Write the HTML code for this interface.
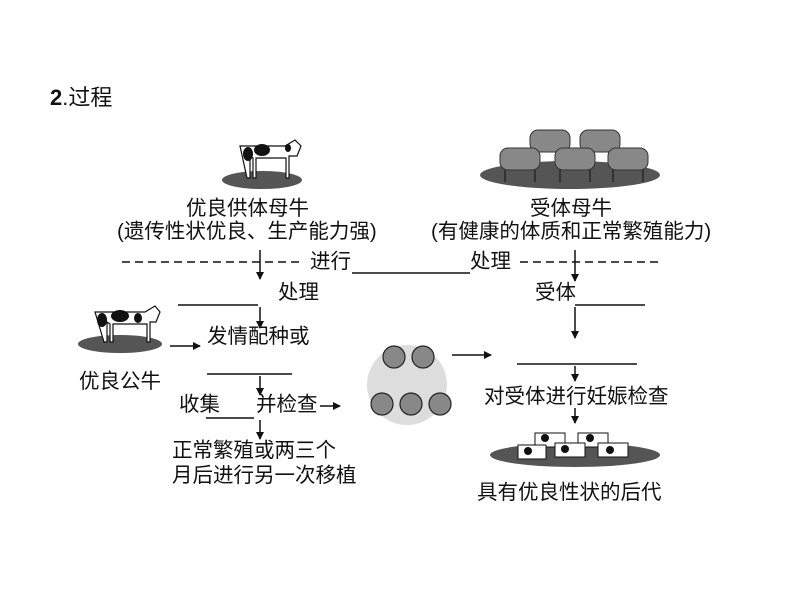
<!DOCTYPE html>
<html><head><meta charset="utf-8"><style>
body{margin:0;width:794px;height:596px;background:#fff;position:relative;overflow:hidden;font-family:"Liberation Sans","Noto Sans CJK SC",sans-serif;color:#111}
.t{position:absolute;font-size:20.5px;line-height:23px;white-space:nowrap}
svg{position:absolute;left:0;top:0}
</style></head><body>
<svg width="794" height="596" viewBox="0 0 794 596">
<defs><marker id="a" markerWidth="8" markerHeight="8" refX="7" refY="4" orient="auto" markerUnits="userSpaceOnUse"><path d="M0,0 L8,4 L0,8 z" fill="#111"/></marker></defs>
<!-- top cow -->
<ellipse cx="262" cy="180" rx="40" ry="9" fill="#555"/>
<path d="M240,146 h45 l10,-6 l6,6 l-4,10 h-8 v22 h-3 v-20 h-30 v20 h-3 v-20 l-3,-2 v22 h-3 z" fill="#fff" stroke="#111" stroke-width="1.2"/>
<ellipse cx="262" cy="150" rx="8" ry="6" fill="#111"/><ellipse cx="248" cy="154" rx="5" ry="7" fill="#111"/><ellipse cx="288" cy="148" rx="3" ry="4" fill="#111"/>
<!-- sheep group -->
<ellipse cx="570" cy="175" rx="90" ry="14" fill="#555"/>
<g fill="#888" stroke="#333" stroke-width="1">
<rect x="530" y="130" width="40" height="22" rx="8"/><rect x="580" y="130" width="40" height="22" rx="8"/>
<rect x="500" y="148" width="40" height="22" rx="8"/><rect x="555" y="148" width="40" height="22" rx="8"/><rect x="608" y="148" width="40" height="22" rx="8"/>
</g>
<g stroke="#333" stroke-width="2"><path d="M505,170v12M535,170v12M560,170v12M590,170v12M613,170v12M643,170v12"/></g>
<!-- bull -->
<ellipse cx="120" cy="344" rx="42" ry="9" fill="#555"/>
<path d="M95,312 h50 l10,-6 l5,6 l-4,10 h-6 v20 h-3 v-18 h-34 v18 h-3 v-18 l-3,-2 v20 h-3 z" fill="#fff" stroke="#111" stroke-width="1.2"/>
<ellipse cx="120" cy="316" rx="9" ry="6" fill="#111"/><ellipse cx="102" cy="320" rx="5" ry="7" fill="#111"/><ellipse cx="138" cy="318" rx="4" ry="5" fill="#111"/>
<!-- embryo circle -->
<circle cx="407" cy="385" r="40" fill="#ddd"/>
<g fill="#888" stroke="#222" stroke-width="1.2">
<circle cx="394" cy="357" r="11"/><circle cx="423" cy="357" r="11"/>
<circle cx="382" cy="404" r="11"/><circle cx="411" cy="404" r="11"/><circle cx="440" cy="404" r="11"/>
</g>
<!-- calves -->
<ellipse cx="575" cy="455" rx="85" ry="12" fill="#555"/>
<g fill="#fff" stroke="#111"><rect x="535" y="433" width="30" height="14"/><rect x="578" y="433" width="30" height="14"/><rect x="555" y="443" width="30" height="14"/><rect x="598" y="443" width="30" height="14"/><rect x="518" y="445" width="28" height="14"/></g>
<g fill="#111"><circle cx="545" cy="438" r="4"/><circle cx="590" cy="438" r="4"/><circle cx="565" cy="449" r="4"/><circle cx="610" cy="450" r="4"/><circle cx="528" cy="451" r="4"/></g>
<!-- lines -->
<g stroke="#111" stroke-width="1.5" fill="none">
<line x1="122" y1="262" x2="302" y2="262" stroke-dasharray="8,5"/>
<line x1="520" y1="262" x2="662" y2="262" stroke-dasharray="8,5"/>
<line x1="352" y1="273" x2="470" y2="273"/>
<line x1="178" y1="305" x2="258" y2="305"/>
<line x1="207" y1="374" x2="292" y2="374"/>
<line x1="206" y1="418" x2="254" y2="418"/>
<line x1="575" y1="305" x2="645" y2="305"/>
<line x1="517" y1="364" x2="637" y2="364"/>
<line x1="260" y1="250" x2="260" y2="279" marker-end="url(#a)"/>
<line x1="260" y1="307" x2="260" y2="328" marker-end="url(#a)"/>
<line x1="260" y1="376" x2="260" y2="395" marker-end="url(#a)"/>
<line x1="260" y1="420" x2="260" y2="439" marker-end="url(#a)"/>
<line x1="170" y1="346" x2="200" y2="346" marker-end="url(#a)"/>
<line x1="320" y1="406" x2="340" y2="406" marker-end="url(#a)"/>
<line x1="452" y1="355" x2="491" y2="355" marker-end="url(#a)"/>
<line x1="575" y1="250" x2="575" y2="281" marker-end="url(#a)"/>
<line x1="575" y1="307" x2="575" y2="338" marker-end="url(#a)"/>
<line x1="575" y1="366" x2="575" y2="381" marker-end="url(#a)"/>
<line x1="575" y1="408" x2="575" y2="423" marker-end="url(#a)"/>
</g>
</svg>
<div class="t" style="left:50px;top:86px;font-size:22px;font-weight:bold">2<span style="font-weight:normal">.过程</span></div>
<div class="t" style="left:186px;top:197px">优良供体母牛</div>
<div class="t" style="left:117px;top:220px">(遗传性状优良、生产能力强)</div>
<div class="t" style="left:530px;top:197px">受体母牛</div>
<div class="t" style="left:431px;top:220px">(有健康的体质和正常繁殖能力)</div>
<div class="t" style="left:310px;top:250px">进行</div>
<div class="t" style="left:470px;top:250px">处理</div>
<div class="t" style="left:278px;top:281px">处理</div>
<div class="t" style="left:535px;top:281px">受体</div>
<div class="t" style="left:207px;top:325px">发情配种或</div>
<div class="t" style="left:79px;top:370px">优良公牛</div>
<div class="t" style="left:179px;top:393px">收集</div>
<div class="t" style="left:256px;top:393px">并检查</div>
<div class="t" style="left:484px;top:385px">对受体进行妊娠检查</div>
<div class="t" style="left:172px;top:439px">正常繁殖或两三个</div>
<div class="t" style="left:172px;top:464px">月后进行另一次移植</div>
<div class="t" style="left:477px;top:481px">具有优良性状的后代</div>
</body></html>
